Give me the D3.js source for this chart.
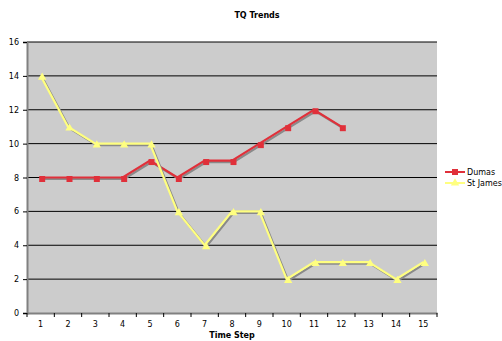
<!DOCTYPE html>
<html><head><meta charset="utf-8">
<script src="https://cdn.jsdelivr.net/npm/d3@7/dist/d3.min.js"></script>
<style>body{margin:0;background:#fff}svg{display:block}</style>
</head><body>
<svg id="chart" width="502" height="341"></svg>
<script>
const steps = [1,2,3,4,5,6,7,8,9,10,11,12,13,14,15];
const dumas = [8,8,8,8,9,8,9,9,10,11,12,11];
const stJames = [14,11,10,10,10,6,4,6,6,2,3,3,3,2,3];
const yTicks = [0,2,4,6,8,10,12,14,16];
const seriesNames = ["Dumas", "St James"];

const svg = d3.select("#chart");
const font = "Verdana, 'DejaVu Sans', sans-serif";
const L = 27, R = 437, T = 42, B = 313;

const x = d3.scaleBand().domain(steps).range([L, R]);
const y = d3.scaleLinear().domain([0, 16]).range([B, T]);

// plot area
svg.append("rect").attr("x", L).attr("y", T).attr("width", R - L).attr("height", B - T).attr("fill", "#cccccc");

// gridlines
svg.append("g").selectAll("line").data(yTicks.filter(d => d > 0)).join("line")
  .attr("x1", L).attr("x2", R).attr("y1", d => y(d)).attr("y2", d => y(d))
  .attr("stroke", "#000").attr("stroke-width", 1);

// axes
const yAxis = svg.append("g").attr("transform", `translate(${L},0)`)
  .call(d3.axisLeft(y).tickValues(yTicks).tickSize(4).tickPadding(4));
const xAxis = svg.append("g").attr("transform", `translate(0,${B})`)
  .call(d3.axisBottom(x).tickSize(0).tickPadding(8));
[yAxis, xAxis].forEach(g => {
  g.select(".domain").attr("stroke", "#808080").attr("stroke-width", 2);
  g.selectAll("text").attr("font-family", font).attr("font-size", 8).attr("fill", "#000");
  g.selectAll(".tick line").attr("stroke", "#000");
});
// x tick marks at category boundaries
svg.append("g").selectAll("line").data(steps.concat([16])).join("line")
  .attr("x1", (d, i) => i < steps.length ? x(d) : R).attr("x2", (d, i) => i < steps.length ? x(d) : R)
  .attr("y1", B).attr("y2", B + 4).attr("stroke", "#000");

const cx = d => x(d) + x.bandwidth() / 2;
const line = d3.line().x(d => cx(d[0])).y(d => y(d[1]));
const pairs = vals => vals.map((v, i) => [steps[i], v]);

function drawSeries(vals, color, shape) {
  const data = pairs(vals);
  const g = svg.append("g");
  const sym = shape === "square" ? d3.symbol(d3.symbolSquare, 36) : d3.symbol(d3.symbolTriangle, 30);
  // drop shadow
  const sh = g.append("g").attr("transform", "translate(1.5,1.5)");
  sh.append("path").attr("d", line(data)).attr("fill", "none").attr("stroke", "#8a8a8a").attr("stroke-width", 2.2);
  sh.selectAll("path.m").data(data).join("path").attr("class", "m")
    .attr("d", sym).attr("transform", d => `translate(${cx(d[0])},${y(d[1])})`).attr("fill", "#8a8a8a");
  g.append("path").attr("d", line(data)).attr("fill", "none").attr("stroke", color).attr("stroke-width", 2.2);
  g.selectAll("path.m").data(data).join("path").attr("class", "m")
    .attr("d", sym).attr("transform", d => `translate(${cx(d[0])},${y(d[1])})`).attr("fill", color);
}
drawSeries(dumas, "#e0303a", "square");
drawSeries(stJames, "#ffff80", "triangle");

// title
svg.append("text").attr("x", 257).attr("y", 18).attr("text-anchor", "middle")
  .attr("font-family", font).attr("font-size", 8).attr("font-weight", "bold").text("TQ Trends");
svg.append("text").attr("x", 232).attr("y", 338).attr("text-anchor", "middle")
  .attr("font-family", font).attr("font-size", 8).attr("font-weight", "bold").text("Time Step");

// legend
const legend = svg.append("g");
const colors = ["#e0303a", "#ffff80"];
const shapes = [d3.symbol(d3.symbolSquare, 36), d3.symbol(d3.symbolTriangle, 30)];
seriesNames.forEach((n, i) => {
  const ly = 172 + i * 11;
  legend.append("line").attr("x1", 445).attr("x2", 465).attr("y1", ly).attr("y2", ly)
    .attr("stroke", colors[i]).attr("stroke-width", 2);
  legend.append("path").attr("d", shapes[i]()).attr("transform", `translate(455,${ly})`).attr("fill", colors[i]);
  legend.append("text").attr("x", 467).attr("y", ly + 3).attr("font-family", font).attr("font-size", 8).text(n);
});
</script>
</body></html>
